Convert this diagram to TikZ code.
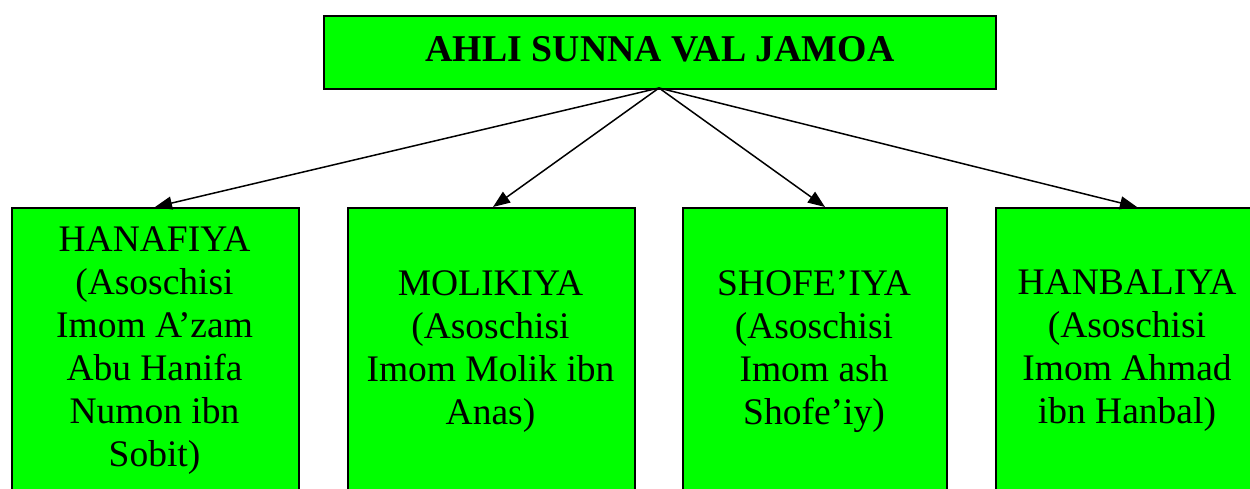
\documentclass[tikz,border=0pt]{standalone}
\usepackage{fontspec}
\setmainfont{Liberation Serif}
\usetikzlibrary{arrows.meta}
\definecolor{boxgreen}{RGB}{0,255,0}
\tikzset{
  gbox/.style={draw=black, line width=1.6pt, fill=boxgreen, rectangle, inner sep=0pt, anchor=north west},
  ltxt/.style={anchor=north, inner sep=0pt, align=center, font=\fontsize{37.5}{43}\selectfont},
  conn/.style={line width=1.5pt, -{Triangle[length=17pt,width=13pt]}}
}
\begin{document}
\begin{tikzpicture}[x=1pt,y=-1pt]
\useasboundingbox (0,0) rectangle (1250,489);
\clip (0,0) rectangle (1250,489);
\node[gbox, minimum width=672pt, minimum height=73pt] (top) at (323,15) {};
\node[font=\fontsize{37.8}{40}\bfseries\selectfont, inner sep=0pt, anchor=base] (toptxt) at (660,62) {AHLI SUNNA VAL JAMOA};
\node[gbox, minimum width=287pt, minimum height=300pt] (b1) at (11,207) {};
\node[gbox, minimum width=287pt, minimum height=300pt] (b2) at (347,207) {};
\node[gbox, minimum width=264pt, minimum height=300pt] (b3) at (682,207) {};
\node[gbox, minimum width=264pt, minimum height=300pt] (b4) at (995,207) {};
\coordinate (src) at (659,88);
\coordinate (t1) at (155,207);
\coordinate (t2) at (493,207);
\coordinate (t3) at (825,207);
\coordinate (t4) at (1137,207);
\draw[conn] (src) -- (t1);
\draw[conn] (src) -- (t2);
\draw[conn] (src) -- (t3);
\draw[conn] (src) -- (t4);
\node[ltxt] (x1) at (154.5,227) {HANAFIYA\\(Asoschisi\\Imom A’zam\\Abu Hanifa\\Numon ibn\\Sobit)};
\node[ltxt] (x2) at (490.5,270) {MOLIKIYA\\(Asoschisi\\Imom Molik ibn\\Anas)};
\node[ltxt] (x3) at (814,270) {SHOFE’IYA\\(Asoschisi\\Imom ash\\Shofe’iy)};
\node[ltxt] (x4) at (1127,270) {HANBALIYA\\(Asoschisi\\Imom Ahmad\\ibn Hanbal)};
\end{tikzpicture}
\end{document}
